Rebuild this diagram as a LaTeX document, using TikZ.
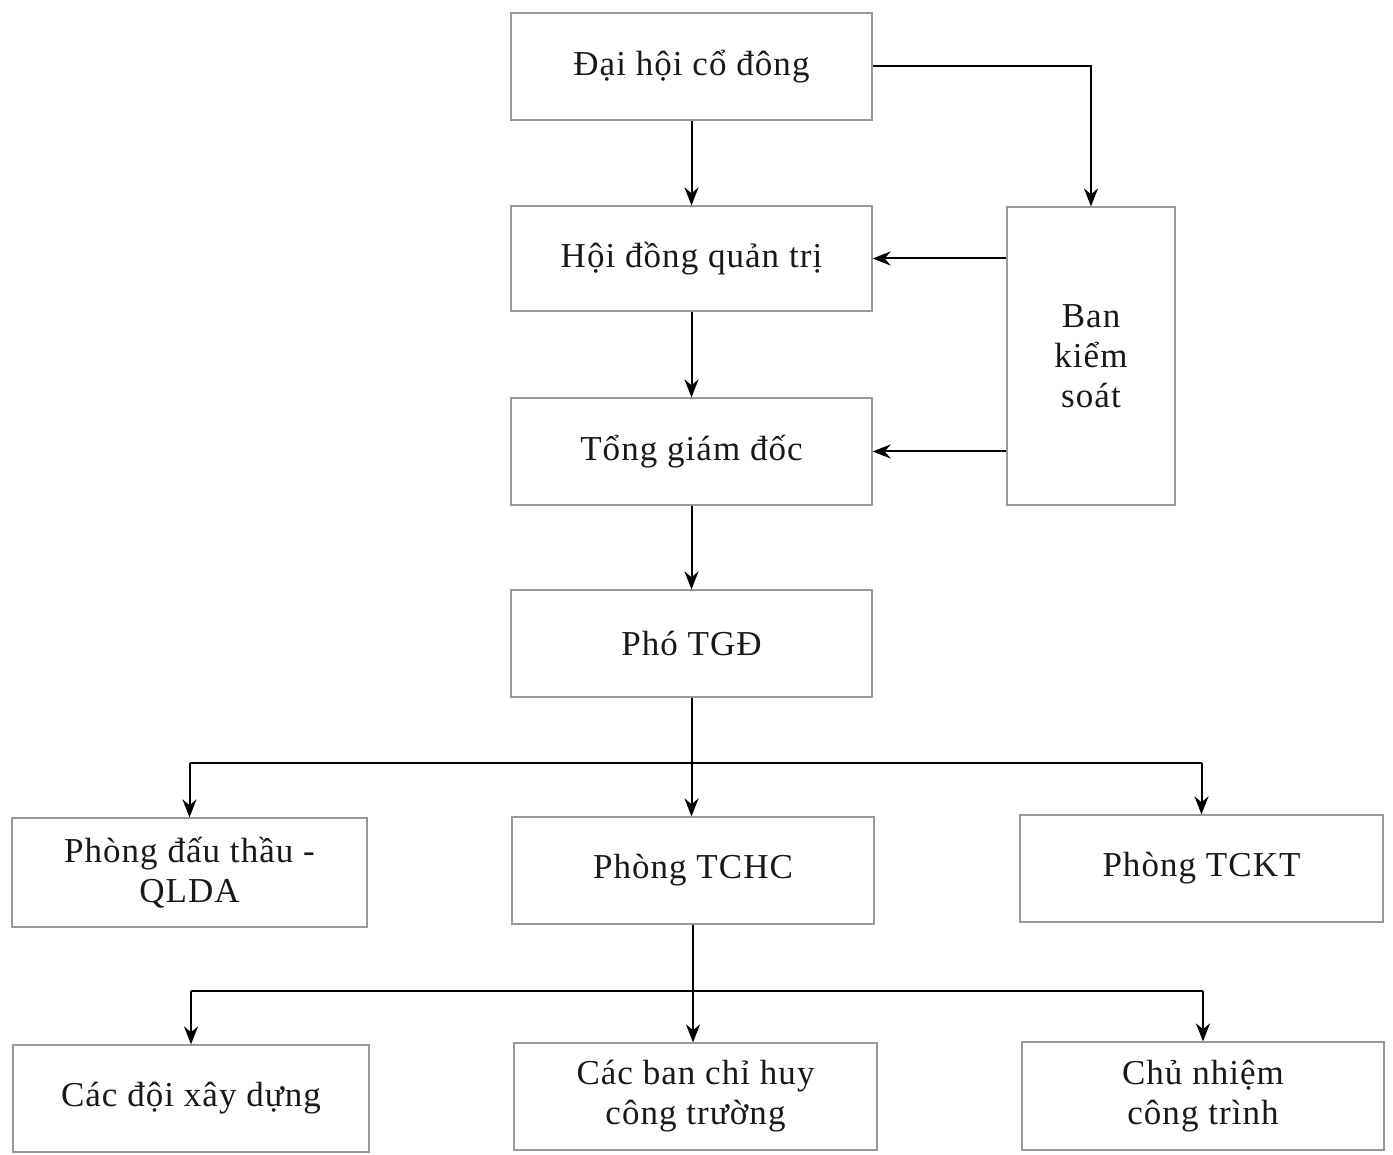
\documentclass[tikz,border=0pt]{standalone}
\usepackage{fontspec}
\setmainfont{Liberation Serif}[LetterSpace=3]
\usetikzlibrary{arrows.meta}
\begin{document}
\begin{tikzpicture}[x=1pt,y=-1pt,
  box/.style={draw=black!40, line width=1.2pt, fill=white, align=center, inner sep=0pt,
    font=\fontsize{35}{40}\selectfont, text=black!90},
  arr/.style={line width=2pt, -{Stealth[length=18pt,width=14pt]}},
  ln/.style={line width=2pt}]
\useasboundingbox[fill=white] (0,0) rectangle (1393,1155);
\node[box, minimum width=361pt, minimum height=107pt] (dh) at (691.5,66.5) {Đại hội cổ đông};
\node[box, minimum width=361pt, minimum height=105pt] (hd) at (691.5,258.5) {Hội đồng quản trị};
\node[box, minimum width=361pt, minimum height=107pt] (tgd) at (691.5,451.5) {Tổng giám đốc};
\node[box, minimum width=361pt, minimum height=107pt] (ptgd) at (691.5,643.5) {Phó TGĐ};
\node[box, minimum width=168pt, minimum height=298pt] (bks) at (1091,356) {Ban\\kiểm\\soát};
\node[box, minimum width=355pt, minimum height=109pt] (pdt) at (189.5,872.5) {Phòng đấu thầu -\\QLDA};
\node[box, minimum width=362pt, minimum height=107pt] (tchc) at (693,870.5) {Phòng TCHC};
\node[box, minimum width=363pt, minimum height=107pt] (tckt) at (1201.5,868.5) {Phòng TCKT};
\node[box, minimum width=356pt, minimum height=107pt] (cdx) at (191,1098.5) {Các đội xây dựng};
\node[box, minimum width=363pt, minimum height=107pt] (cbch) at (695.5,1096.5) {Các ban chỉ huy\\công trường};
\node[box, minimum width=362pt, minimum height=108pt] (cn) at (1203,1096) {Chủ nhiệm\\công trình};
\draw[arr] (dh.south) -- (hd.north);
\draw[arr] (hd.south) -- (tgd.north);
\draw[arr] (tgd.south) -- (ptgd.north);
\draw[arr] (dh.east) -| (bks.north);
\draw[arr] (bks.west |- hd.east) -- (hd.east);
\draw[arr] (bks.west |- tgd.east) -- (tgd.east);
\coordinate (b1) at (0,763);
\draw[ln] (ptgd.south) -- (ptgd.south |- b1);
\draw[ln] (pdt.north |- b1) -- (tckt.north |- b1);
\draw[arr] (pdt.north |- b1) -- (pdt.north);
\draw[arr] (ptgd.south |- b1) -- (ptgd.south |- tchc.north);
\draw[arr] (tckt.north |- b1) -- (tckt.north);
\coordinate (b2) at (0,991);
\draw[ln] (tchc.south) -- (tchc.south |- b2);
\draw[ln] (cdx.north |- b2) -- (cn.north |- b2);
\draw[arr] (cdx.north |- b2) -- (cdx.north);
\draw[arr] (tchc.south |- b2) -- (tchc.south |- cbch.north);
\draw[arr] (cn.north |- b2) -- (cn.north);
\end{tikzpicture}
\end{document}
